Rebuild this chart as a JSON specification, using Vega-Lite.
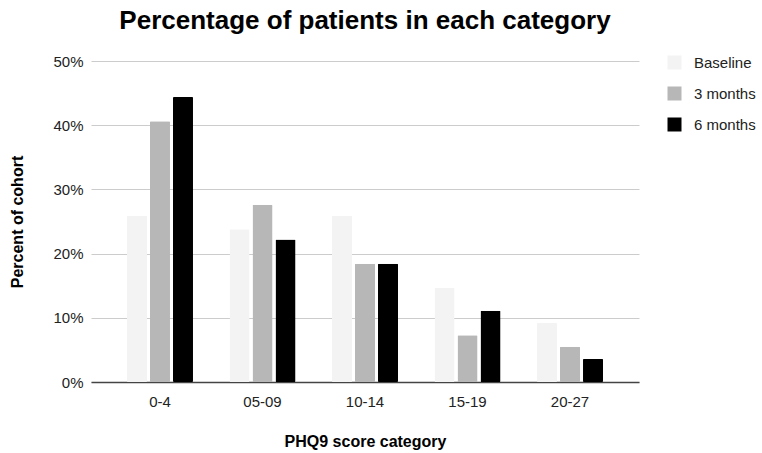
{
  "$schema": "https://vega.github.io/schema/vega-lite/v6.json",
  "autosize": {"type": "none"},
  "width": 548,
  "height": 321,
  "padding": {"left": 91, "top": 61, "right": 123, "bottom": 71},
  "background": "white",
  "title": {
    "text": "Percentage of patients in each category",
    "font": "Liberation Sans",
    "fontSize": 26,
    "fontWeight": "bold",
    "color": "#000000",
    "anchor": "middle",
    "offset": 20
  },
  "data": {
    "values": [
      {"category": "0-4", "period": "Baseline", "pct": 25.9},
      {"category": "0-4", "period": "3 months", "pct": 40.6},
      {"category": "0-4", "period": "6 months", "pct": 44.4},
      {"category": "05-09", "period": "Baseline", "pct": 23.8},
      {"category": "05-09", "period": "3 months", "pct": 27.6},
      {"category": "05-09", "period": "6 months", "pct": 22.2},
      {"category": "10-14", "period": "Baseline", "pct": 25.9},
      {"category": "10-14", "period": "3 months", "pct": 18.4},
      {"category": "10-14", "period": "6 months", "pct": 18.4},
      {"category": "15-19", "period": "Baseline", "pct": 14.7},
      {"category": "15-19", "period": "3 months", "pct": 7.3},
      {"category": "15-19", "period": "6 months", "pct": 11.1},
      {"category": "20-27", "period": "Baseline", "pct": 9.2},
      {"category": "20-27", "period": "3 months", "pct": 5.5},
      {"category": "20-27", "period": "6 months", "pct": 3.6}
    ]
  },
  "mark": {"type": "bar", "cornerRadius": 1},
  "encoding": {
    "x": {
      "field": "category",
      "type": "nominal",
      "sort": ["0-4", "05-09", "10-14", "15-19", "20-27"],
      "scale": {"paddingInner": 0.356, "paddingOuter": 0.351},
      "axis": {
        "title": "PHQ9 score category",
        "titleFont": "Liberation Sans",
        "titleFontSize": 16,
        "titleFontWeight": "bold",
        "titleColor": "#000000",
        "titlePadding": 24,
        "labelFont": "Liberation Sans",
        "labelFontSize": 15,
        "labelColor": "#222222",
        "labelAngle": 0,
        "labelPadding": 12,
        "ticks": false,
        "domainColor": "#444444",
        "domainWidth": 1.5
      }
    },
    "xOffset": {
      "field": "period",
      "type": "nominal",
      "sort": ["Baseline", "3 months", "6 months"],
      "scale": {"paddingInner": 0.13, "paddingOuter": 0}
    },
    "y": {
      "field": "pct",
      "type": "quantitative",
      "scale": {"domain": [0, 50]},
      "axis": {
        "title": "Percent of cohort",
        "titleFont": "Liberation Sans",
        "titleFontSize": 16,
        "titleFontWeight": "bold",
        "titleColor": "#000000",
        "titlePadding": 27,
        "labelFont": "Liberation Sans",
        "labelFontSize": 15,
        "labelColor": "#222222",
        "labelPadding": 8,
        "values": [0, 10, 20, 30, 40, 50],
        "labelExpr": "datum.value + '%'",
        "ticks": false,
        "domain": false,
        "gridColor": "#cccccc",
        "gridWidth": 1
      }
    },
    "color": {
      "field": "period",
      "type": "nominal",
      "sort": ["Baseline", "3 months", "6 months"],
      "scale": {
        "domain": ["Baseline", "3 months", "6 months"],
        "range": ["#f3f3f3", "#b7b7b7", "#000000"]
      },
      "legend": {
        "title": null,
        "orient": "none",
        "legendX": 576,
        "legendY": -6,
        "symbolType": "square",
        "symbolSize": 196,
        "symbolStrokeWidth": 0,
        "labelFont": "Liberation Sans",
        "labelFontSize": 15,
        "labelColor": "#222222",
        "labelOffset": 12,
        "rowPadding": 15
      }
    }
  },
  "config": {"view": {"stroke": null}}
}
